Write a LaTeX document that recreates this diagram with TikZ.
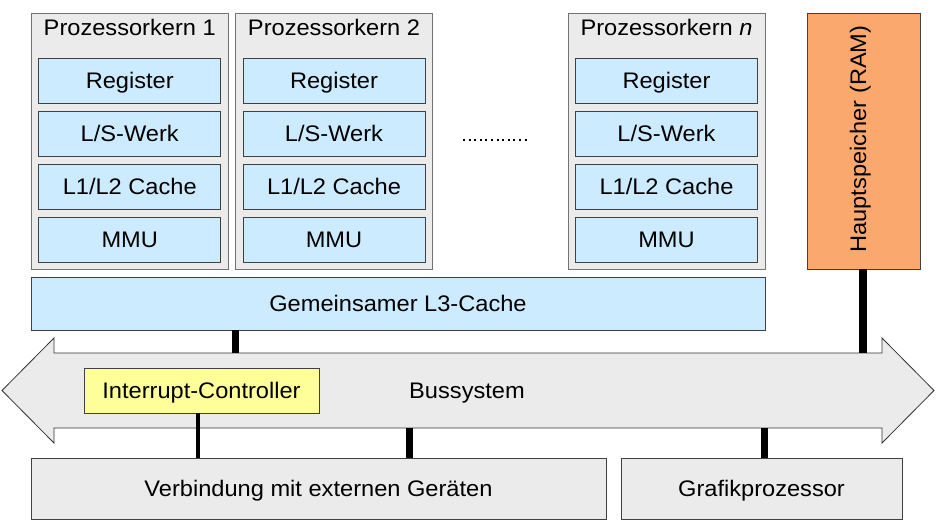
\documentclass[tikz,border=0pt]{standalone}
\usepackage{fontspec}
\setmainfont{Liberation Sans}[FakeStretch=1.05]
\begin{document}
\begin{tikzpicture}[x=1pt,y=-1pt,
  every node/.style={font=\fontsize{22.5}{27}\selectfont, text height=16pt, text depth=0pt, inner sep=0pt},
  corebox/.style={draw=black!55, fill=black!8, line width=0.8pt, minimum width=197pt, minimum height=256pt},
  unitbox/.style={draw=black!75, fill=unitblue, line width=0.8pt, minimum width=182pt, minimum height=45pt},
  graybox/.style={draw=black!75, fill=black!8, line width=0.8pt},
  conn/.style={line width=7.5pt, black},
  thinconn/.style={line width=4pt, black}]
\definecolor{unitblue}{RGB}{204,235,255}
\definecolor{ramorange}{RGB}{250,168,110}
\definecolor{icyellow}{RGB}{255,255,153}
\useasboundingbox (0,0) rectangle (938,524);

% processor cores
\foreach \nm/\cx/\ttl in {c1/129.75/{Prozessorkern 1}, c2/334/{Prozessorkern 2}, cn/666.5/{Prozessorkern \textit{n}}}{
  \node[corebox] (\nm) at (\cx,141) {};
  \node (\nm t) at (\cx,28) {\ttl};
  \node[unitbox] (\nm r) at (\cx,80.5) {Register};
  \node[unitbox] (\nm l) at (\cx,133.5) {L/S-Werk};
  \node[unitbox] (\nm c) at (\cx,186.5) {L1/L2 Cache};
  \node[unitbox] (\nm m) at (\cx,239.5) {MMU};
}

% dots between cores
\coordinate (d1) at (463,140);
\coordinate (d2) at (530,140);
\draw[line width=2.2pt, dash pattern=on 2pt off 3.6pt] (d1) -- (d2);

% RAM
\node[draw=black!75, fill=ramorange, line width=0.8pt, minimum width=113pt, minimum height=256pt] (ram) at (863.5,141) {};
\node[rotate=90] (ramt) at (858,139) {Hauptspeicher (RAM)};

% L3 cache
\node[unitbox, minimum width=734pt, minimum height=53pt] (l3) at (398,303.5) {Gemeinsamer L3-Cache};

% bus arrow
\draw[fill=black!8, draw=black!80, line width=0.8pt]
  (2,390.5) -- (54,338) -- (54,353) -- (882,353) -- (882,338) -- (934,390.5)
  -- (882,443) -- (882,428) -- (54,428) -- (54,443) -- cycle;
\node[minimum width=828pt, minimum height=75pt] (bus) at (468,390.5) {};
\node (bust) at (467,390.5) {Bussystem};

% interrupt controller
\node[draw=black!75, fill=icyellow, line width=0.8pt, minimum width=235pt, minimum height=45pt] (ic) at (201.5,390.5) {Interrupt-Controller};

% bottom boxes
\node[graybox, minimum width=575pt, minimum height=61pt] (ext) at (318.5,488.5) {Verbindung mit externen Geräten};
\node[graybox, minimum width=281pt, minimum height=61pt] (gpu) at (761.5,488.5) {Grafikprozessor};

% connectors
\coordinate (xa) at (235.5,0);
\coordinate (xb) at (863,0);
\coordinate (xc) at (198,0);
\coordinate (xd) at (409.5,0);
\coordinate (xe) at (764.5,0);
\draw[conn] (l3.south -| xa) -- (bus.north -| xa);
\draw[conn] (ram.south -| xb) -- (bus.north -| xb);
\draw[thinconn] (ic.south -| xc) -- (ext.north -| xc);
\draw[conn] (bus.south -| xd) -- (ext.north -| xd);
\draw[conn] (bus.south -| xe) -- (gpu.north -| xe);
\end{tikzpicture}
\end{document}
